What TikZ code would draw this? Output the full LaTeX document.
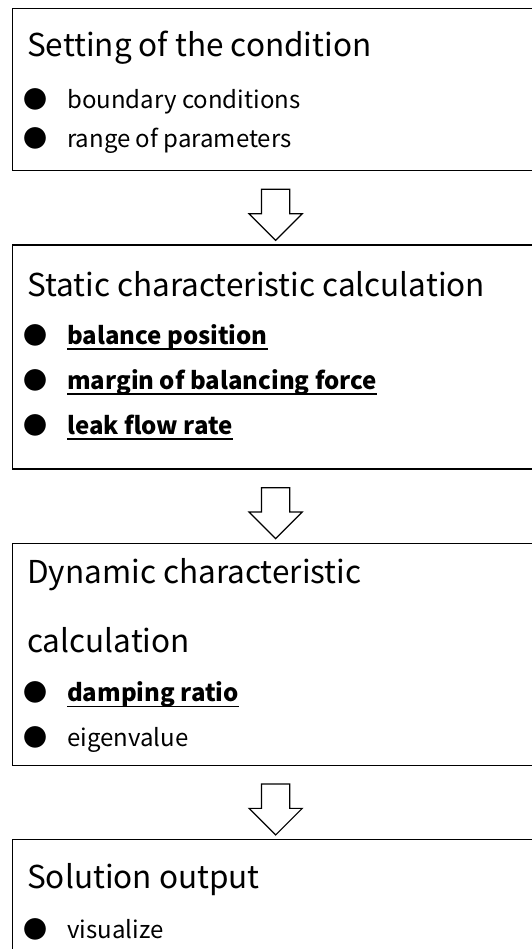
\documentclass[tikz,border=0pt]{standalone}
\usepackage{fontspec}
\setmainfont{Noto Sans CJK JP}
\usetikzlibrary{shapes.arrows, positioning, calc}

\newcommand{\bul}{\makebox[26pt]{●}\hspace{19pt}}
\newcommand{\uln}[1]{\setbox0\hbox{#1}\rlap{\rule[-5.5pt]{\wd0}{1.6pt}}\box0}

\begin{document}
\begin{tikzpicture}[
x=1pt, y=1pt,
node distance=73pt,
stagebox/.style={rectangle, draw, line width=1.3pt, minimum width=526pt, inner sep=0pt},
head/.style={anchor=base west, inner sep=0pt, font=\fontsize{31.5}{36}\selectfont},
item/.style={anchor=base west, inner sep=0pt, font=\fontsize{24}{28}\selectfont},
keyitem/.style={item, font=\fontsize{24}{28}\selectfont\bfseries},
downarrow/.style={single arrow, draw, line width=1.2pt, shape border rotate=270, minimum height=51pt, single arrow head extend=12.5pt, inner sep=13.5pt}
]
\useasboundingbox (0,0) rectangle (531,-949);

% Boxes
\node[stagebox, minimum height=162pt, anchor=north west] (setting) at (12,-8) {};
\node[stagebox, minimum height=224pt, below=of setting] (static) {};
\node[stagebox, minimum height=222pt, below=of static] (dynamic) {};
\node[stagebox, minimum height=130pt, below=of dynamic] (output) {};

% Texts
\node[head] (setting-t) at ($(setting.north west)+(15,-49)$) {Setting of the condition};
\node[item] (setting-1) at ($(setting.north west)+(10,-101)$) {\bul boundary conditions};
\node[item] (setting-2) at ($(setting.north west)+(10,-140)$) {\bul range of parameters};

\node[head] (static-t) at ($(static.north west)+(15,-52)$) {Static characteristic calculation};
\node[keyitem] (static-1) at ($(static.north west)+(10,-100)$) {\bul\uln{balance position}};
\node[keyitem] (static-2) at ($(static.north west)+(10,-145)$) {\bul\uln{margin of balancing force}};
\node[keyitem] (static-3) at ($(static.north west)+(10,-190)$) {\bul\uln{leak flow rate}};

\node[head] (dynamic-t) at ($(dynamic.north west)+(15,-41)$) {Dynamic characteristic};
\node[head] (dynamic-t2) at ($(dynamic.north west)+(15,-110)$) {calculation};
\node[keyitem] (dynamic-1) at ($(dynamic.north west)+(10,-159)$) {\bul\uln{damping ratio}};
\node[item] (dynamic-2) at ($(dynamic.north west)+(10,-204)$) {\bul eigenvalue};

\node[head] (output-t) at ($(output.north west)+(15,-50)$) {Solution output};
\node[item] (output-1) at ($(output.north west)+(10,-100)$) {\bul visualize};

% Arrows
\path (setting) -- (static) node[midway, downarrow] {};
\path (static) -- (dynamic) node[midway, downarrow] {};
\path (dynamic) -- (output) node[midway, downarrow] {};

\end{tikzpicture}
\end{document}
